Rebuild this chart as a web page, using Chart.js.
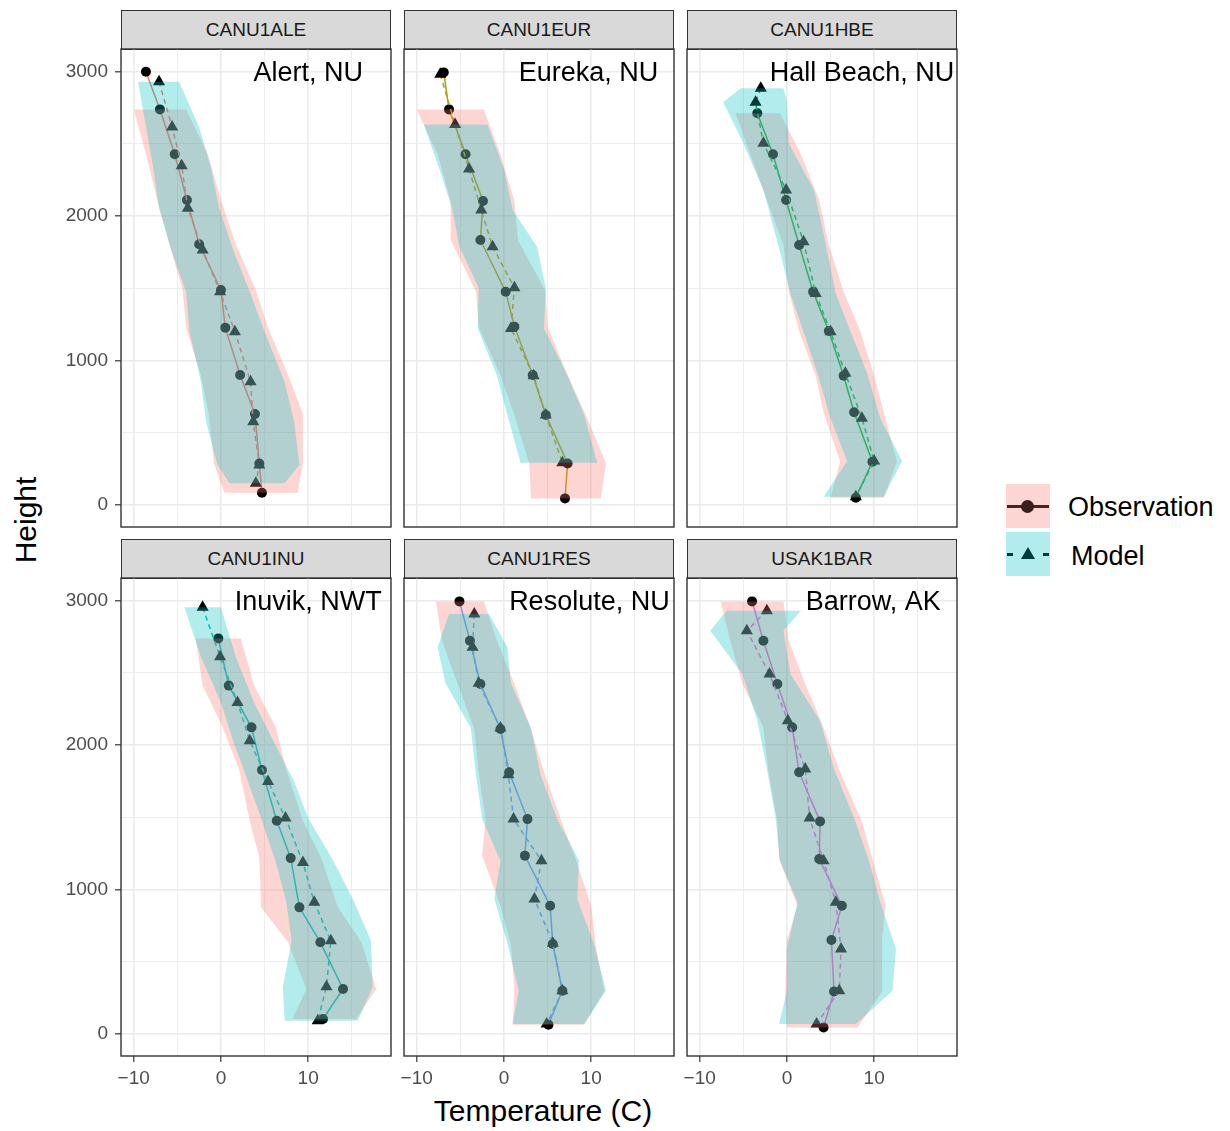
<!DOCTYPE html>
<html>
<head>
<meta charset="utf-8">
<script src="https://cdn.jsdelivr.net/npm/chart.js@4.4.0/dist/chart.umd.min.js"></script>
<style>
  body { margin: 0; background: #fff; width: 1230px; height: 1131px; position: relative; overflow: hidden;
         font-family: "Liberation Sans", Arial, sans-serif; }
  canvas { position: absolute; }
  .strip { position: absolute; width: 270px; height: 40px; background: #d9d9d9; border: 1.4px solid #333;
           box-sizing: border-box; color: #1a1a1a; font-size: 19px; text-align: center; line-height: 37px; }
  .title { position: absolute; color: #000; font-size: 30px; white-space: nowrap; }
  .key { position: absolute; left: 1006px; width: 44px; height: 44px; }
  .klabel { position: absolute; font-size: 27px; line-height: 30px; color: #000; }
</style>
</head>
<body>

<div class="title" style="left:543px;top:1094px;transform:translateX(-50%)">Temperature (C)</div>
<div class="title" style="left:26px;top:520px;transform:translate(-50%,-50%) rotate(-90deg)">Height</div>

<div class="key" style="top:484px;background:rgb(253,214,211)">
  <div style="position:absolute;left:1px;right:1px;top:21px;height:3px;background:#4a2321"></div>
  <div style="position:absolute;left:15px;top:16px;width:13px;height:13px;border-radius:50%;background:#3b1d1b"></div>
</div>
<div class="klabel" style="left:1068px;top:492px">Observation</div>
<div class="key" style="top:532px;background:rgb(178,236,237)">
  <div style="position:absolute;left:1px;width:6px;top:21px;height:3px;background:#003a3c"></div>
  <div style="position:absolute;right:1px;width:6px;top:21px;height:3px;background:#003a3c"></div>
  <div style="position:absolute;left:15px;top:15px;width:0;height:0;border-left:7px solid transparent;border-right:7px solid transparent;border-bottom:12px solid #003a3c"></div>
</div>
<div class="klabel" style="left:1071px;top:541px">Model</div>

<script>
const stations = ['CANU1ALE', 'CANU1EUR', 'CANU1HBE', 'CANU1INU', 'CANU1RES', 'USAK1BAR'];
const places = ['Alert, NU', 'Eureka, NU', 'Hall Beach, NU', 'Inuvik, NWT', 'Resolute, NU', 'Barrow, AK'];

const xTickValues = [-10, -5, 0, 5, 10, 15];
const xTickLabels = [-10, 0, 10];
const yTickValues = [0, 500, 1000, 1500, 2000, 2500, 3000];
const yTickLabels = [0, 1000, 2000, 3000];

// observation profiles
const obsHeight = [
  [3000, 2739, 2428, 2112, 1805, 1488, 1228, 900, 630, 288, 85],
  [2995, 2739, 2428, 2105, 1835, 1477, 1235, 900, 623, 288, 46],
  [2712, 2428, 2112, 1800, 1477, 1205, 895, 642, 300, 51],
  [2739, 2412, 2123, 1828, 1477, 1218, 877, 635, 312, 104],
  [2995, 2723, 2423, 2112, 1812, 1488, 1235, 888, 623, 300, 65],
  [2995, 2723, 2423, 2123, 1812, 1472, 1212, 888, 651, 295, 46]
];
const obsTemp = [
  [-8.6, -7.0, -5.3, -3.9, -2.5, 0.0, 0.5, 2.2, 3.9, 4.4, 4.7],
  [-6.9, -6.3, -4.4, -2.4, -2.7, 0.2, 1.2, 3.3, 4.8, 7.3, 7.0],
  [-3.4, -1.6, -0.1, 1.4, 3.0, 4.8, 6.5, 7.7, 9.8, 7.9],
  [-0.3, 0.9, 3.5, 4.7, 6.4, 8.0, 9.0, 11.4, 14.0, 11.7],
  [-5.1, -3.9, -2.7, -0.4, 0.6, 2.7, 2.4, 5.3, 5.6, 6.7, 5.1],
  [-4.0, -2.7, -1.1, 0.6, 1.4, 3.8, 3.7, 6.3, 5.1, 5.4, 4.2]
];
const obsLow = [
  [null, -10.0, -8.6, -7.3, -5.9, -4.4, -4.0, -2.3, -1.4, -0.8, 0.4],
  [null, -10.0, -7.6, -6.1, -6.1, -3.2, -2.9, -0.4, 1.2, 2.9, 3.1],
  [-5.9, -4.2, -2.3, -0.4, 0.2, 1.4, 3.3, 4.2, 6.1, 5.0],
  [-2.9, -2.1, 0.2, 2.1, 3.3, 4.4, 4.6, 7.7, 9.8, 8.2],
  [-7.8, -7.1, -5.3, -3.4, -2.9, -2.1, -2.5, -0.4, 0.8, 1.2, 1.0],
  [-7.6, -6.5, -5.1, -2.7, -2.1, -1.1, -0.9, 1.2, 0.0, -0.2, 0.0]
];
const obsHigh = [
  [null, -4.0, -1.5, 0.0, 1.7, 4.0, 5.4, 7.7, 9.4, 9.4, 8.8],
  [null, -2.3, -0.4, 1.2, 1.6, 4.8, 5.0, 7.3, 9.4, 11.7, 11.1],
  [-0.8, 1.6, 3.7, 4.8, 6.5, 8.4, 10.0, 11.1, 12.6, 11.1],
  [2.3, 3.8, 6.3, 7.5, 9.4, 11.5, 13.4, 16.1, 17.8, 15.5],
  [-2.3, -0.8, 1.2, 3.1, 4.6, 6.5, 8.1, 10.0, 10.5, 11.5, 9.2],
  [-0.4, 0.2, 2.1, 4.2, 6.1, 8.6, 9.8, 11.3, 10.9, 10.9, 8.1]
];

// model profiles
const modHeight = [
  [2931, 2617, 2349, 2054, 1765, 1477, 1200, 854, 577, 277, 150],
  [2982, 2635, 2326, 2042, 1788, 1505, 1223, 895, 623, 293],
  [2885, 2788, 2504, 2181, 1823, 1465, 1200, 912, 600, 305, 58],
  [2954, 2612, 2296, 2031, 1749, 1495, 1188, 912, 646, 328, 92],
  [2908, 2677, 2428, 2118, 1795, 1488, 1200, 935, 628, 300, 69],
  [2931, 2792, 2492, 2169, 1835, 1495, 1200, 912, 588, 300, 69]
];
const modTemp = [
  [-7.1, -5.6, -4.5, -3.8, -2.1, -0.1, 1.6, 3.4, 3.7, 4.4, 4.0],
  [-7.3, -5.6, -4.0, -2.6, -1.3, 1.2, 0.8, 3.4, 4.8, 6.7],
  [-3.0, -3.6, -2.7, -0.1, 1.9, 3.3, 5.0, 6.7, 8.6, 10.0, 7.9],
  [-2.1, -0.1, 1.9, 3.3, 5.4, 7.4, 9.4, 10.7, 12.6, 12.1, 11.1],
  [-3.4, -3.6, -2.9, -0.4, 0.5, 1.1, 4.3, 3.5, 5.6, 6.7, 4.9],
  [-2.3, -4.6, -2.0, 0.1, 2.1, 2.6, 4.2, 5.6, 6.2, 6.0, 3.4]
];
const modLow = [
  [-9.5, -8.6, -7.8, -7.1, -5.7, -4.0, -3.6, -2.3, -1.7, -0.4, 1.0],
  [null, -9.2, -7.4, -5.9, -5.1, -2.9, -3.0, -0.8, 0.4, 1.9],
  [-5.3, -7.3, -5.0, -2.7, -1.1, 0.4, 1.9, 3.5, 5.0, 6.9, 4.2],
  [-4.2, -2.3, 0.0, 1.4, 3.1, 4.6, 6.3, 7.5, 8.1, 7.1, 7.3],
  [-6.3, -7.6, -6.7, -3.8, -3.2, -2.5, -0.4, -1.1, 0.4, 1.7, 1.0],
  [-6.9, -8.8, -5.1, -3.4, -2.3, -1.3, -0.8, 1.2, 0.0, 0.0, -0.9]
];
const modHigh = [
  [-4.8, -2.5, -1.2, -0.2, 1.4, 3.3, 5.0, 7.3, 8.4, 9.0, 7.3],
  [null, -1.9, 0.0, 1.0, 3.8, 4.8, 4.6, 7.3, 9.2, 10.7],
  [-0.4, 0.0, 0.2, 3.1, 4.4, 5.6, 7.3, 9.2, 10.7, 13.2, 11.1],
  [0.0, 1.7, 3.8, 6.0, 8.4, 10.0, 13.0, 15.3, 17.2, 17.4, 15.7],
  [-1.7, 0.4, 0.8, 3.1, 4.2, 6.1, 8.6, 8.4, 10.3, 11.7, 9.2],
  [1.6, -0.4, 0.4, 3.8, 5.4, 7.7, 9.4, 10.7, 12.5, 12.1, 7.9]
];

// where the place name sits (temperature axis), all at 3000 m
const labelX = [10, 9.7, 8.6, 10, 9.8, 9.9];

const lineColors = ['#F8766D', '#B79F00', '#00BA38', '#00BFC4', '#619CFF', '#F564E3'];
const fontFamily = '"Liberation Sans", Arial, sans-serif';

Chart.defaults.font.family = fontFamily;

const panelLeft = [121, 404, 687];
const plotTop = [49, 578];
const plotW = 270, plotH = 478;

function points(heights, temps) {
  return heights.map((h, k) => ({x: temps[k], y: h}));
}

// closed outline: down the low edge, back up the high edge
function ribbon(heights, lo, hi) {
  const left = [], right = [];
  heights.forEach((h, k) => {
    if (lo[k] == null) return;
    left.push({x: lo[k], y: h});
    right.push({x: hi[k], y: h});
  });
  return left.concat(right.reverse());
}

const fmt = v => v < 0 ? '\u2212' + Math.abs(v) : String(v);

const deco = {
  id: 'deco',
  afterDatasetsDraw(chart, args, opts) {
    const {ctx, chartArea: a, scales} = chart;
    ctx.save();
    ctx.beginPath();
    ctx.rect(a.left, a.top, a.right - a.left, a.bottom - a.top);
    ctx.clip();
    ctx.fillStyle = '#000';
    ctx.font = '27px ' + fontFamily;
    ctx.textAlign = 'center';
    ctx.textBaseline = 'middle';
    ctx.fillText(opts.text, scales.x.getPixelForValue(opts.at), scales.y.getPixelForValue(3000) + 2);
    ctx.restore();
  },
  afterDraw(chart) {
    const {ctx, chartArea: a} = chart;
    ctx.save();
    ctx.strokeStyle = '#333';
    ctx.lineWidth = 1.4;
    ctx.strokeRect(a.left, a.top, a.right - a.left, a.bottom - a.top);
    ctx.restore();
  }
};

stations.forEach((st, i) => {
  const row = Math.floor(i / 3), col = i % 3;
  const yAxisW = col === 0 ? 121 : 20;
  const xAxisH = row === 1 ? 40 : 3;
  const padTop = 3, padRight = 3;

  const strip = document.createElement('div');
  strip.className = 'strip';
  strip.style.left = panelLeft[col] + 'px';
  strip.style.top = (plotTop[row] - 39) + 'px';
  strip.textContent = st;
  document.body.appendChild(strip);

  const canvas = document.createElement('canvas');
  canvas.width = yAxisW + plotW + padRight;
  canvas.height = padTop + plotH + xAxisH;
  canvas.style.left = (panelLeft[col] - yAxisW) + 'px';
  canvas.style.top = (plotTop[row] - padTop) + 'px';
  document.body.appendChild(canvas);

  new Chart(canvas, {
    type: 'line',
    data: {
      datasets: [
        {
          label: 'Model sd',
          data: ribbon(modHeight[i], modLow[i], modHigh[i]),
          fill: 'shape',
          backgroundColor: 'rgba(0,191,196,0.3)',
          borderColor: 'rgba(0,0,0,0)',
          borderWidth: 0,
          pointRadius: 0,
          order: 0
        },
        {
          label: 'Observation sd',
          data: ribbon(obsHeight[i], obsLow[i], obsHigh[i]),
          fill: 'shape',
          backgroundColor: 'rgba(248,118,109,0.3)',
          borderColor: 'rgba(0,0,0,0)',
          borderWidth: 0,
          pointRadius: 0,
          order: 1
        },
        {
          label: 'Model',
          data: points(modHeight[i], modTemp[i]),
          borderColor: lineColors[i],
          borderWidth: 1.5,
          borderDash: [5, 4],
          pointStyle: 'triangle',
          pointRadius: 7,
          pointBackgroundColor: '#000',
          pointBorderColor: '#000',
          pointBorderWidth: 0,
          fill: false,
          order: 2
        },
        {
          label: 'Observation',
          data: points(obsHeight[i], obsTemp[i]),
          borderColor: lineColors[i],
          borderWidth: 1.5,
          pointStyle: 'circle',
          pointRadius: 5,
          pointBackgroundColor: '#000',
          pointBorderColor: '#000',
          pointBorderWidth: 0,
          fill: false,
          order: 3
        }
      ]
    },
    options: {
      responsive: false,
      animation: false,
      devicePixelRatio: 1,
      events: [],
      layout: {autoPadding: false, padding: {top: padTop, right: padRight, left: 0, bottom: 0}},
      plugins: {
        legend: {display: false},
        tooltip: {enabled: false},
        deco: {text: places[i], at: labelX[i]}
      },
      scales: {
        x: {
          type: 'linear',
          min: -11.46,
          max: 19.5,
          afterBuildTicks: s => { s.ticks = xTickValues.map(v => ({value: v})); },
          afterFit: s => { s.height = xAxisH; s.paddingLeft = 0; s.paddingRight = 0; },
          border: {display: false},
          grid: {
            color: '#EBEBEB',
            lineWidth: c => xTickLabels.includes(c.tick.value) ? 1.6 : 0.9,
            drawTicks: row === 1,
            tickLength: 6,
            tickWidth: 1.2,
            tickColor: c => xTickLabels.includes(c.tick.value) ? '#333' : 'rgba(0,0,0,0)'
          },
          ticks: {
            display: row === 1,
            autoSkip: false,
            maxRotation: 0,
            padding: 5,
            color: '#4D4D4D',
            font: {size: 19},
            callback: v => xTickLabels.includes(v) ? fmt(v) : ''
          }
        },
        y: {
          type: 'linear',
          min: -152,
          max: 3157,
          afterBuildTicks: s => { s.ticks = yTickValues.map(v => ({value: v})); },
          afterFit: s => { s.width = yAxisW; s.paddingTop = 0; s.paddingBottom = 0; },
          border: {display: false},
          grid: {
            color: '#EBEBEB',
            lineWidth: c => yTickLabels.includes(c.tick.value) ? 1.6 : 0.9,
            drawTicks: col === 0,
            tickLength: 6,
            tickWidth: 1.2,
            tickColor: c => yTickLabels.includes(c.tick.value) ? '#333' : 'rgba(0,0,0,0)'
          },
          ticks: {
            display: col === 0,
            autoSkip: false,
            padding: 7,
            color: '#4D4D4D',
            font: {size: 19},
            callback: v => yTickLabels.includes(v) ? String(v) : ''
          }
        }
      }
    },
    plugins: [deco]
  });
});
</script>
</body>
</html>
